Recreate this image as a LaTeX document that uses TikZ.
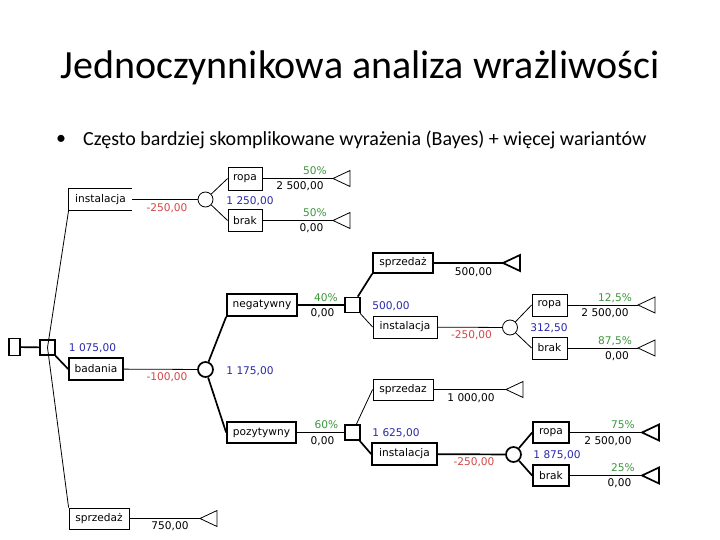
\documentclass[tikz,border=0pt]{standalone}
\usepackage{fontspec}
\usepackage{xcolor}
\usepackage{tikz}
\setmainfont{Carlito}
\newfontfamily\vfont{DejaVu Sans}
\newcommand{\lbl}{\vfont\fontsize{10.6}{12}\selectfont}
\definecolor{pgreen}{RGB}{60,150,60}
\definecolor{vblue}{RGB}{40,40,170}
\definecolor{cred}{RGB}{210,70,70}

\begin{document}
\begin{tikzpicture}[x=1pt, y=-1pt,
    thinl/.style={line width=0.8pt},
    thickl/.style={line width=1.7pt},
    box/.style={draw, thinl, inner sep=0pt, minimum height=22, font=\lbl},
    tbox/.style={box, thickl},
    chance/.style={draw, circle, inner sep=0pt, minimum size=15},
    decide/.style={draw, rectangle, inner sep=0pt, minimum size=15},
    val/.style={inner sep=0pt, font=\lbl},
    prob/.style={val, text=pgreen},
    cost/.style={val, text=cred},
    ev/.style={val, text=vblue},
    endtri/.pic={\draw (0,0) -- (17,-8) -- (17,8) -- cycle;}]
    \useasboundingbox (0,0) rectangle (720,540);
    \node (title) at (360,68) {\fontsize{40}{48}\selectfont Jednoczynnikowa analiza wrażliwości};
    \node[anchor=west, inner sep=0pt] (bul) at (56,140) {\fontsize{20}{24}\selectfont\textbullet};
    \node[anchor=west, inner sep=0pt] (txt) at (83,140) {\fontsize{20}{24}\selectfont Często bardziej skomplikowane wyrażenia (Bayes) + więcej wariantów};

    % root
    \node[draw, thickl, inner sep=0pt, minimum width=11, minimum height=17] (root) at (14.5,347) {};
    \node[decide, thickl] (d0) at (47.5,347.5) {};
    \draw[thickl] (root) -- (d0);

    % instalacja (top)
    \node[box, draw=none, minimum width=63, minimum height=21] (instA) at (100.5,199.5) {instalacja};
    \draw[thinl] (instA.north east) -- (instA.north west) -- (instA.south west) -- (instA.south east);
    \node[chance, thinl] (cA) at (205.5,199.5) {};
    \node[box, minimum width=34, minimum height=23] (ropaA) at (245,178.5) {ropa};
    \node[box, minimum width=34] (brakA) at (245,220.5) {brak};
    \coordinate (tA1) at (333,178.5);
    \coordinate (tA2) at (333,220.5);
    \draw[thinl] (instA.east) -- (cA);
    \draw[thinl] (cA) -- (ropaA.west);
    \draw[thinl] (cA) -- (brakA.west);
    \draw[thinl] (ropaA) -- (tA1);
    \draw[thinl] (brakA) -- (tA2);
    \pic[thinl] at (tA1) {endtri};
    \pic[thinl] at (tA2) {endtri};
    \node[cost] (kA) at (167,208) {-250,00};
    \node[ev] (eA) at (250,201) {1 250,00};
    \node[prob] (pA1) at (315,171) {50\%};
    \node[val] (vA1) at (300,186) {2 500,00};
    \node[prob] (pA2) at (315,213) {50\%};
    \node[val] (vA2) at (311.5,228) {0,00};

    % sprzedaz (bottom)
    \node[box, minimum width=60, minimum height=21] (sprzZ) at (99,518.5) {sprzedaż};
    \coordinate (tZ) at (200,518.5);
    \draw[thinl] (sprzZ) -- (tZ);
    \pic[thinl] at (tZ) {endtri};
    \node[val] (vZ) at (170,526) {750,00};
    \draw[thinl] (instA.south west) -- (d0.center) -- (sprzZ.north west);

    % badania
    \node[tbox, minimum width=54] (bad) at (96,369) {badania};
    \draw[thickl] (d0) -- (bad.west);
    \node[ev] (e0) at (92.5,348) {1 075,00};
    \node[chance, thickl] (cB) at (205.5,369.5) {};
    \draw[thinl] (bad) -- (cB);
    \node[cost] (kB) at (167,377) {-100,00};
    \node[ev] (eB) at (250,371) {1 175,00};

    % negatywny
    \node[tbox, minimum width=70] (neg) at (262,305) {negatywny};
    \draw[thickl] (cB) -- (neg.south west);
    \node[decide, thickl] (dN) at (352.5,305) {};
    \draw[thickl] (neg) -- (dN);
    \node[prob] (pN) at (326,298) {40\%};
    \node[val] (vN) at (322.5,313) {0,00};
    \node[tbox, minimum width=60, minimum height=20] (sprzN) at (403,263) {sprzedaż};
    \draw[thickl] (dN) -- (sprzN.south west);
    \coordinate (tN) at (503,263);
    \draw[thickl] (sprzN) -- (tN);
    \pic[thickl] at (tN) {endtri};
    \node[val] (vN2) at (473.5,272) {500,00};
    \node[ev] (eN) at (391,306) {500,00};
    \node[box, minimum width=64] (instN) at (405,327) {instalacja};
    \draw[thinl] (dN) -- (instN.west);
    \node[chance, thinl] (cN) at (510,327.5) {};
    \draw[thinl] (instN) -- (cN);
    \node[cost] (kN) at (471.5,335) {-250,00};
    \node[ev] (eN2) at (549,328) {312,50};
    \node[box, minimum width=35] (ropaN) at (549.5,305) {ropa};
    \node[box, minimum width=35] (brakN) at (549.5,348) {brak};
    \draw[thinl] (cN) -- (ropaN.west);
    \draw[thinl] (cN) -- (brakN.west);
    \coordinate (tN1) at (638,305);
    \coordinate (tN2) at (638,348);
    \draw[thinl] (ropaN) -- (tN1);
    \draw[thinl] (brakN) -- (tN2);
    \pic[thinl] at (tN1) {endtri};
    \pic[thinl] at (tN2) {endtri};
    \node[prob] (pN1) at (615,298) {12,5\%};
    \node[val] (vN3) at (605,313) {2 500,00};
    \node[prob] (pN2) at (615,341) {87,5\%};
    \node[val] (vN4) at (617,356) {0,00};

    % pozytywny
    \node[tbox, minimum width=69, minimum height=21] (poz) at (261.5,432.5) {pozytywny};
    \draw[thickl] (cB) -- (poz.west);
    \node[decide, thickl] (dP) at (352.5,432.5) {};
    \draw[thickl] (poz) -- (dP);
    \node[prob] (pP) at (326.5,425) {60\%};
    \node[val] (vP) at (322.5,441) {0,00};
    \node[box, minimum width=60, minimum height=21] (sprzP) at (403,389.5) {sprzedaz};
    \draw[thinl] (dP) -- (sprzP.west);
    \coordinate (tP) at (506,389.5);
    \draw[thinl] (sprzP) -- (tP);
    \pic[thinl] at (tP) {endtri};
    \node[val] (vP2) at (471,398) {1 000,00};
    \node[ev] (eP) at (396,433) {1 625,00};
    \node[tbox, minimum width=65] (instP) at (404.5,454) {instalacja};
    \draw[thickl] (dP) -- (instP.west);
    \node[chance, thickl] (cP) at (513.5,454.5) {};
    \draw[thickl] (instP) -- (cP);
    \node[cost] (kP) at (474,462) {-250,00};
    \node[ev] (eP2) at (557,455) {1 875,00};
    \node[tbox, minimum width=36, minimum height=21] (ropaP) at (551,432.5) {ropa};
    \node[tbox, minimum width=36, minimum height=21] (brakP) at (551,475.5) {brak};
    \draw[thickl] (cP) -- (ropaP.west);
    \draw[thickl] (cP) -- (brakP.west);
    \coordinate (tP1) at (642,432.5);
    \coordinate (tP2) at (642,475.5);
    \draw[thickl] (ropaP) -- (tP1);
    \draw[thickl] (brakP) -- (tP2);
    \pic[thickl] at (tP1) {endtri};
    \pic[thickl] at (tP2) {endtri};
    \node[prob] (pP1) at (623,425) {75\%};
    \node[val] (vP3) at (608,441) {2 500,00};
    \node[prob] (pP2) at (623,468) {25\%};
    \node[val] (vP4) at (619.5,483) {0,00};
\end{tikzpicture}
\end{document}
